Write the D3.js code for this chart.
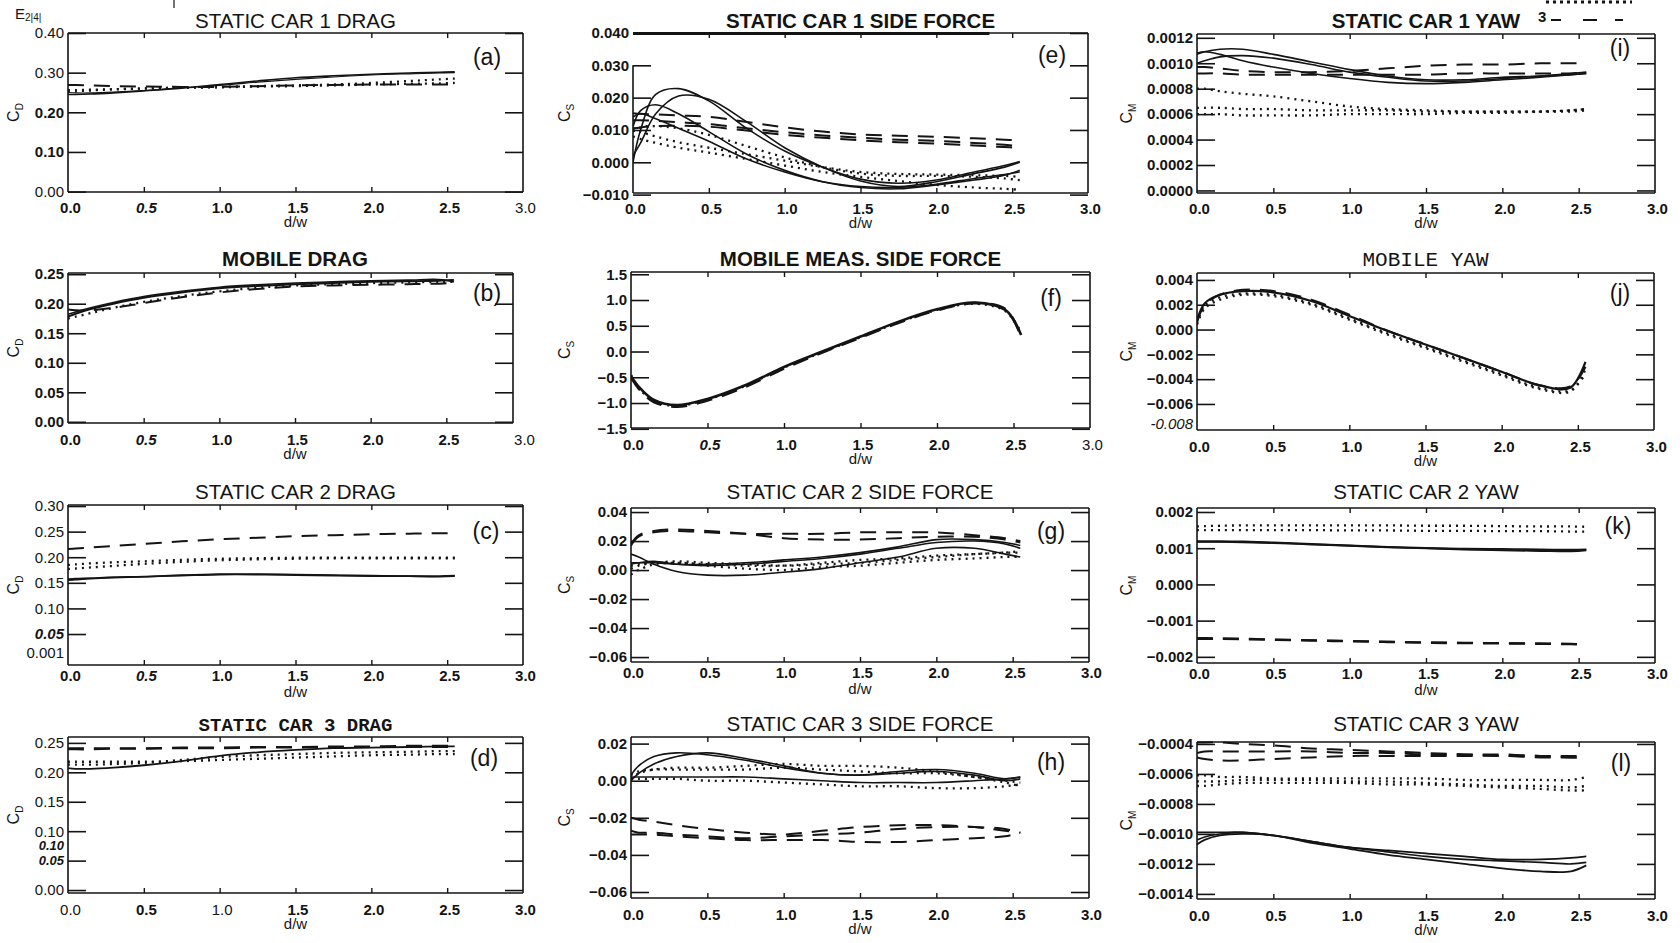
<!DOCTYPE html>
<html><head><meta charset="utf-8">
<script src="https://cdn.jsdelivr.net/npm/d3@7"></script>
<style>body{margin:0;background:#fff}svg{display:block}</style>
</head><body><svg id="c" width="1680" height="943"></svg>
<script>
// ---------------- DATA ----------------
const dw = [0, 0.05, 0.15, 0.3, 0.5, 0.75, 1.0, 1.25, 1.5, 1.75, 2.0, 2.25, 2.45, 2.55];
const xTicks = [0, 0.5, 1.0, 1.5, 2.0, 2.5, 3.0];

// (a) static car 1 drag
const a_s1 = [0.245,0.245,0.246,0.249,0.254,0.261,0.270,0.279,0.287,0.292,0.296,0.299,0.301,0.302];
const a_s2 = [0.250,0.249,0.249,0.251,0.255,0.262,0.268,0.276,0.283,0.289,0.294,0.297,0.299,0.300];
const a_o1 = [0.256,0.256,0.257,0.258,0.260,0.262,0.264,0.266,0.268,0.270,0.274,0.279,0.283,0.285];
const a_o2 = [0.252,0.253,0.255,0.258,0.260,0.262,0.263,0.265,0.266,0.268,0.270,0.272,0.273,0.274];
const a_d1 = [0.269,0.269,0.268,0.266,0.265,0.264,0.264,0.266,0.268,0.269,0.270,0.270,0.270,0.270];
// (b) mobile drag
const b_s1 = [0.178,0.183,0.191,0.200,0.210,0.219,0.226,0.230,0.233,0.235,0.237,0.238,0.239,0.240];
const b_s2 = [0.182,0.186,0.193,0.202,0.212,0.221,0.228,0.232,0.235,0.237,0.239,0.240,0.241,0.237];
const b_d1 = [0.190,0.189,0.189,0.193,0.201,0.211,0.219,0.225,0.229,0.231,0.232,0.233,0.234,0.235];
const b_o1 = [0.175,0.178,0.184,0.193,0.203,0.213,0.221,0.227,0.231,0.233,0.235,0.236,0.237,0.237];
// (c) static car 2 drag
const c_d1 = [0.216,0.217,0.219,0.222,0.226,0.231,0.235,0.238,0.241,0.243,0.245,0.246,0.247,0.247];
const c_o1 = [0.185,0.186,0.188,0.190,0.192,0.195,0.197,0.198,0.199,0.199,0.199,0.199,0.199,0.199];
const c_o2 = [0.177,0.178,0.180,0.183,0.187,0.191,0.194,0.196,0.197,0.198,0.198,0.198,0.198,0.198];
const c_s1 = [0.157,0.158,0.159,0.161,0.162,0.165,0.167,0.167,0.166,0.165,0.164,0.163,0.163,0.164];
const c_s2 = [0.155,0.156,0.158,0.160,0.162,0.164,0.166,0.166,0.165,0.164,0.163,0.163,0.162,0.163];
// (d) static car 3 drag
const d_d1 = [0.241,0.241,0.241,0.241,0.241,0.242,0.242,0.243,0.243,0.244,0.244,0.245,0.245,0.245];
const d_d2 = [0.239,0.239,0.239,0.240,0.240,0.241,0.241,0.242,0.242,0.243,0.243,0.243,0.243,0.243];
const d_s1 = [0.207,0.206,0.206,0.208,0.212,0.219,0.228,0.234,0.238,0.241,0.242,0.243,0.244,0.244];
const d_o1 = [0.218,0.218,0.218,0.218,0.218,0.219,0.221,0.223,0.225,0.227,0.229,0.230,0.231,0.231];
const d_o2 = [0.213,0.213,0.213,0.214,0.216,0.221,0.226,0.229,0.231,0.233,0.234,0.235,0.236,0.236];
// (e) static car 1 side force
const e_s1 = [0.000,0.010,0.021,0.0228,0.019,0.0105,0.0035,-0.0015,-0.0052,-0.0065,-0.0055,-0.003,-0.001,0.0002];
const e_s2 = [0.002,0.006,0.015,0.0205,0.0195,0.0125,0.0045,-0.0015,-0.0058,-0.0075,-0.006,-0.0035,-0.0015,0.000];
const e_s3 = [0.011,0.016,0.0178,0.015,0.0095,0.0025,-0.0025,-0.006,-0.0078,-0.0082,-0.007,-0.0055,-0.004,-0.0025];
const e_s4 = [0.014,0.015,0.0135,0.0105,0.0065,0.001,-0.003,-0.006,-0.0075,-0.0078,-0.0068,-0.005,-0.0038,-0.003];
const e_d1 = [0.0152,0.0150,0.0148,0.0145,0.0141,0.0125,0.0108,0.0095,0.0086,0.0082,0.0079,0.0074,0.0070,0.0068];
const e_d2 = [0.0130,0.0130,0.0128,0.0124,0.0118,0.0105,0.0093,0.0083,0.0076,0.0070,0.0066,0.0060,0.0054,0.0050];
const e_d3 = [0.0105,0.0108,0.0112,0.0113,0.0110,0.0098,0.0085,0.0076,0.0068,0.0062,0.0058,0.0052,0.0047,0.0045];
const e_o1 = [0.0105,0.0095,0.0080,0.0062,0.0045,0.0025,0.0005,-0.0015,-0.0030,-0.0036,-0.0038,-0.0040,-0.0042,-0.0045];
const e_o2 = [0.0095,0.0108,0.0112,0.0105,0.0085,0.0050,0.0015,-0.0015,-0.0035,-0.0042,-0.0042,-0.0045,-0.0050,-0.0055];
const e_o3 = [0.0080,0.0072,0.0060,0.0045,0.0030,0.0010,-0.0010,-0.0030,-0.0045,-0.0058,-0.0070,-0.0078,-0.0082,-0.0085];
// (f) mobile measured side force
const f_s1 = [-0.48,-0.68,-0.94,-1.04,-0.92,-0.65,-0.30,0.00,0.29,0.58,0.82,0.95,0.80,0.32];
const f_d1 = [-0.50,-0.72,-0.98,-1.07,-0.95,-0.68,-0.33,-0.02,0.27,0.56,0.80,0.94,0.82,0.28];
const f_o1 = [-0.46,-0.70,-0.96,-1.05,-0.93,-0.66,-0.31,-0.01,0.28,0.57,0.81,0.93,0.78,0.36];
// (g) static car 2 side force
const g_d1 = [0.018,0.024,0.027,0.028,0.027,0.025,0.022,0.021,0.021,0.022,0.023,0.023,0.021,0.019];
const g_d2 = [0.017,0.023,0.026,0.027,0.026,0.025,0.025,0.025,0.026,0.026,0.026,0.024,0.022,0.020];
const g_s1 = [0.011,0.009,0.004,-0.001,-0.0035,-0.0035,-0.0015,0.001,0.005,0.009,0.015,0.015,0.011,0.009];
const g_s2 = [0.004,0.005,0.006,0.004,0.003,0.004,0.006,0.008,0.011,0.015,0.019,0.020,0.018,0.015];
const g_s3 = [0.005,0.005,0.005,0.004,0.004,0.005,0.007,0.009,0.012,0.016,0.021,0.021,0.019,0.017];
const g_o1 = [-0.003,0.000,0.004,0.005,0.004,0.003,0.003,0.005,0.007,0.008,0.010,0.011,0.012,0.013];
const g_o2 = [0.001,0.003,0.005,0.005,0.003,0.001,0.000,0.002,0.003,0.005,0.007,0.008,0.009,0.009];
const g_o3 = [0.003,0.004,0.005,0.006,0.005,0.004,0.003,0.004,0.005,0.007,0.009,0.011,0.012,0.012];
// (h) static car 3 side force
const h_s1 = [0.003,0.008,0.013,0.015,0.014,0.011,0.007,0.004,0.003,0.005,0.006,0.004,0.001,0.002];
const h_s2 = [0.000,0.004,0.009,0.013,0.015,0.012,0.008,0.004,0.003,0.004,0.005,0.003,0.000,0.001];
const h_s3 = [0.002,0.002,0.002,0.002,0.002,0.002,0.001,0.000,-0.001,-0.001,-0.001,0.000,0.001,0.002];
const h_o1 = [0.001,0.004,0.006,0.007,0.007,0.008,0.009,0.008,0.008,0.007,0.005,0.002,0.000,-0.001];
const h_o2 = [0.003,0.005,0.006,0.006,0.006,0.006,0.007,0.006,0.005,0.004,0.004,0.002,-0.001,-0.003];
const h_o3 = [0.001,0.001,0.001,0.001,0.000,0.000,-0.001,-0.002,-0.003,-0.003,-0.004,-0.004,-0.003,-0.002];
const h_d1 = [-0.020,-0.021,-0.022,-0.024,-0.026,-0.028,-0.029,-0.027,-0.025,-0.024,-0.024,-0.025,-0.027,-0.028];
const h_d2 = [-0.027,-0.028,-0.028,-0.029,-0.030,-0.031,-0.030,-0.029,-0.028,-0.026,-0.025,-0.025,-0.026,-0.028];
const h_d3 = [-0.029,-0.029,-0.029,-0.030,-0.031,-0.032,-0.032,-0.032,-0.033,-0.033,-0.032,-0.031,-0.030,-0.028];
// (i) static car 1 yaw
const i_s1 = [0.00107,0.00109,0.00111,0.00111,0.00107,0.00101,0.00095,0.00090,0.00087,0.00087,0.00089,0.00090,0.00092,0.00093];
const i_s2 = [0.00100,0.00102,0.00105,0.00106,0.00104,0.00099,0.00093,0.00089,0.00086,0.00086,0.00088,0.00090,0.00091,0.00092];
const i_s3 = [0.00108,0.00109,0.00107,0.00102,0.00097,0.00092,0.00088,0.00085,0.00084,0.00085,0.00087,0.00089,0.00091,0.00092];
const i_d1 = [0.00097,0.00097,0.00096,0.00094,0.00093,0.00093,0.00094,0.00096,0.00098,0.00099,0.00099,0.00100,0.00100,0.00100];
const i_d2 = [0.00092,0.00092,0.00092,0.00091,0.00091,0.00091,0.00091,0.00091,0.00091,0.00092,0.00092,0.00092,0.00092,0.00093];
const i_o1 = [0.00080,0.00080,0.00078,0.00076,0.00074,0.00070,0.00066,0.00064,0.00063,0.00062,0.00062,0.00062,0.00063,0.00064];
const i_o2 = [0.00065,0.00065,0.00065,0.00064,0.00064,0.00063,0.00063,0.00063,0.00062,0.00062,0.00062,0.00062,0.00063,0.00064];
const i_o3 = [0.00060,0.00060,0.00060,0.00059,0.00059,0.00059,0.00060,0.00060,0.00060,0.00061,0.00061,0.00062,0.00062,0.00063];
// (j) mobile yaw
const j_s1 = [0.0007,0.0021,0.0028,0.0031,0.0030,0.0023,0.0011,-0.0001,-0.0012,-0.0023,-0.0034,-0.0045,-0.0047,-0.0026];
const j_d1 = [0.0006,0.0020,0.0028,0.0032,0.0031,0.0024,0.0012,-0.0001,-0.0012,-0.0023,-0.0034,-0.0045,-0.0046,-0.0030];
const j_o1 = [0.0004,0.0017,0.0024,0.0028,0.0027,0.0020,0.0008,-0.0004,-0.0015,-0.0026,-0.0037,-0.0048,-0.0050,-0.0032];
const j_o2 = [0.0005,0.0019,0.0026,0.0029,0.0028,0.0021,0.0009,-0.0003,-0.0014,-0.0025,-0.0036,-0.0047,-0.0049,-0.0036];
// (k) static car 2 yaw
const k_o1 = [0.00160,0.00161,0.00162,0.00163,0.00163,0.00163,0.00163,0.00163,0.00162,0.00162,0.00161,0.00160,0.00160,0.00159];
const k_o2 = [0.00150,0.00150,0.00150,0.00150,0.00150,0.00150,0.00149,0.00149,0.00148,0.00148,0.00147,0.00147,0.00146,0.00146];
const k_s1 = [0.00120,0.00120,0.00120,0.00119,0.00116,0.00112,0.00108,0.00104,0.00101,0.00099,0.00098,0.00097,0.00096,0.00097];
const k_s2 = [0.00118,0.00118,0.00118,0.00117,0.00115,0.00111,0.00107,0.00103,0.00100,0.00097,0.00095,0.00094,0.00093,0.00095];
const k_s3 = [0.00117,0.00117,0.00117,0.00116,0.00114,0.00110,0.00106,0.00102,0.00099,0.00096,0.00094,0.00092,0.00091,0.00094];
const k_d1 = [-0.00150,-0.00150,-0.00150,-0.00151,-0.00153,-0.00155,-0.00157,-0.00159,-0.00161,-0.00162,-0.00163,-0.00164,-0.00165,-0.00166];
const k_d2 = [-0.00148,-0.00148,-0.00149,-0.00150,-0.00152,-0.00154,-0.00156,-0.00158,-0.00160,-0.00161,-0.00162,-0.00163,-0.00164,-0.00165];
// (l) static car 3 yaw
const l_d1 = [-0.00039,-0.00039,-0.00039,-0.00040,-0.00041,-0.00043,-0.00044,-0.00045,-0.00046,-0.00047,-0.00047,-0.00048,-0.00048,-0.00048];
const l_d2 = [-0.00046,-0.00045,-0.00045,-0.00045,-0.00045,-0.00045,-0.00046,-0.00046,-0.00047,-0.00047,-0.00048,-0.00048,-0.00049,-0.00049];
const l_d3 = [-0.00049,-0.00050,-0.00051,-0.00051,-0.00050,-0.00049,-0.00048,-0.00048,-0.00048,-0.00048,-0.00048,-0.00049,-0.00049,-0.00049];
const l_o1 = [-0.00061,-0.00061,-0.00062,-0.00062,-0.00063,-0.00063,-0.00063,-0.00063,-0.00063,-0.00064,-0.00064,-0.00064,-0.00064,-0.00062];
const l_o2 = [-0.00065,-0.00065,-0.00065,-0.00064,-0.00064,-0.00064,-0.00065,-0.00065,-0.00066,-0.00067,-0.00068,-0.00068,-0.00069,-0.00068];
const l_o3 = [-0.00068,-0.00068,-0.00067,-0.00066,-0.00066,-0.00066,-0.00066,-0.00067,-0.00067,-0.00068,-0.00069,-0.00070,-0.00071,-0.00071];
const l_s1 = [-0.00099,-0.00099,-0.00099,-0.00099,-0.00101,-0.00105,-0.00109,-0.00111,-0.00113,-0.00115,-0.00117,-0.00117,-0.00116,-0.00115];
const l_s2 = [-0.00104,-0.00102,-0.00100,-0.00099,-0.00101,-0.00105,-0.00109,-0.00112,-0.00115,-0.00117,-0.00118,-0.00119,-0.00120,-0.00119];
const l_s3 = [-0.00107,-0.00104,-0.00101,-0.00100,-0.00101,-0.00106,-0.00110,-0.00114,-0.00117,-0.00120,-0.00123,-0.00125,-0.00125,-0.00121];

// tick values
const yt_a = [0, 0.1, 0.2, 0.3, 0.4];
const yt_b = [0, 0.05, 0.10, 0.15, 0.20, 0.25];
const yt_c = [0.05, 0.10, 0.15, 0.20, 0.25, 0.30];
const yt_d = [0, 0.05, 0.10, 0.15, 0.20, 0.25];
const yt_e = [-0.01, 0, 0.01, 0.02, 0.03, 0.04];
const yt_f = [-1.5, -1.0, -0.5, 0, 0.5, 1.0, 1.5];
const yt_g = [-0.06, -0.04, -0.02, 0, 0.02, 0.04];
const yt_h = [-0.06, -0.04, -0.02, 0, 0.02];
const yt_i = [0, 0.0002, 0.0004, 0.0006, 0.0008, 0.0010, 0.0012];
const yt_j = [-0.006, -0.004, -0.002, 0, 0.002, 0.004];
const yt_k = [-0.002, -0.001, 0, 0.001, 0.002];
const yt_l = [-0.0014, -0.0012, -0.0010, -0.0008, -0.0006, -0.0004];

// ---------------- LAYOUT / RENDER ----------------
const SANS = "'Liberation Sans', Arial, Helvetica, sans-serif";
const MONO = "'Liberation Mono', 'Courier New', monospace";
const INK = '#141414';
const rowTitleY = [28, 266, 499, 731];
const rowTickPad = [10, 11, 5, 11];
const rowXTitleOff = [35, 36, 32, 36];
const colYTitleX = [19, 570, 1132];
const styleOf = {
  solid:  {w: 1.6, dash: null},
  dashed: {w: 2.0, dash: '16,10'},
  dotted: {w: 2.3, dash: '2,5'}
};

const panels = [
  {key:'a', row:0, col:0, title:'STATIC CAR 1 DRAG', tw:'normal', sub:'D', yDomain:[-0.001,0.40], yt:yt_a, fmt:'.2f',
   box:{x0:68,x3:523,top:33,bottom:192}, lab:[487,57],
   series:[[a_s1,'solid'],[a_s2,'solid',1.1],[a_o1,'dotted'],[a_o2,'dotted'],[a_d1,'dashed']],
   xItalic:[0.5], xNormal:[3.0], yNormal:[0.4,0.3,0]},
  {key:'b', row:1, col:0, title:'MOBILE DRAG', tw:'bold', sub:'D', yDomain:[-0.002,0.252], yt:yt_b, fmt:'.2f',
   box:{x0:68,x3:522,right:513,top:273,bottom:423}, lab:[487,293],
   series:[[b_s1,'solid',2],[b_s2,'solid'],[b_d1,'dashed'],[b_o1,'dotted']],
   xItalic:[0.5], xNormal:[3.0]},
  {key:'c', row:2, col:0, title:'STATIC CAR 2 DRAG', tw:'normal', sub:'D', yDomain:[-0.0105,0.302], yt:yt_c, fmt:'.2f',
   box:{x0:68,x3:523,top:505,bottom:665}, lab:[486,531],
   series:[[c_d1,'dashed'],[c_o1,'dotted'],[c_o2,'dotted'],[c_s1,'solid',1.8],[c_s2,'solid']],
   xItalic:[0.5], yItalic:[0.05], yNormal:[0.30,0.25,0.20,0.15,0.10],
   extraY:[[0.012,'0.001','normal','normal',15]]},
  {key:'d', row:3, col:0, title:'STATIC CAR 3 DRAG', tf:MONO, tw:'bold', tsize:19, sub:'D', yDomain:[-0.005,0.26], yt:yt_d, fmt:'.2f',
   box:{x0:68,x3:523,top:737,bottom:893}, lab:[484,758],
   series:[[d_d1,'dashed'],[d_d2,'dashed'],[d_s1,'solid',1.8],[d_o1,'dotted'],[d_o2,'dotted']],
   yItalic:[0.05], ySmall:[0.05], yNormal:[0.25,0.20,0.15,0.10,0], xNormal:[0,1.0],
   extraY:[[0.0745,'0.10','bold','italic',13]]},
  {key:'e', row:0, col:1, title:'STATIC CAR 1 SIDE FORCE', tw:'bold', sub:'S', yDomain:[-0.0095,0.040], yt:yt_e, fmt:'.3f',
   box:{x0:633,x3:1088,top:33,bottom:193}, lab:[1052,55], leftFrom:0.03, thickTop:2.35,
   series:[[e_s1,'solid'],[e_s2,'solid'],[e_s3,'solid'],[e_s4,'solid'],[e_d1,'dashed'],[e_d2,'dashed'],[e_d3,'dashed'],[e_o1,'dotted'],[e_o2,'dotted'],[e_o3,'dotted']]},
  {key:'f', row:1, col:1, title:'MOBILE MEAS. SIDE FORCE', tw:'bold', sub:'S', yDomain:[-1.485,1.544], yt:yt_f, fmt:'.1f',
   box:{x0:631,x3:1090,top:272,bottom:428}, lab:[1051,298],
   series:[[f_s1,'solid',2.6],[f_d1,'dashed',2.6],[f_o1,'dotted',2.6]],
   xItalic:[0.5], xNormal:[3.0]},
  {key:'g', row:2, col:1, title:'STATIC CAR 2 SIDE FORCE', tw:'normal', sub:'S', yDomain:[-0.0634,0.0428], yt:yt_g, fmt:'.2f',
   box:{x0:631,x3:1089,top:508,bottom:662}, lab:[1051,531],
   series:[[g_d1,'dashed'],[g_d2,'dashed'],[g_s1,'solid'],[g_s2,'solid'],[g_s3,'solid'],[g_o1,'dotted'],[g_o2,'dotted'],[g_o3,'dotted']]},
  {key:'h', row:3, col:1, title:'STATIC CAR 3 SIDE FORCE', tw:'normal', sub:'S', yDomain:[-0.06323,0.02356], yt:yt_h, fmt:'.2f',
   box:{x0:631,x3:1089,top:737,bottom:898}, lab:[1051,762],
   series:[[h_s1,'solid'],[h_s2,'solid'],[h_s3,'solid'],[h_o1,'dotted'],[h_o2,'dotted'],[h_o3,'dotted'],[h_d1,'dashed'],[h_d2,'dashed'],[h_d3,'dashed']]},
  {key:'i', row:0, col:2, title:'STATIC CAR 1 YAW', tw:'bold', sub:'M', yDomain:[-0.00002,0.00123], yt:yt_i, fmt:'.4f',
   box:{x0:1197,x3:1655,top:34,bottom:193}, lab:[1620,48],
   series:[[i_s1,'solid'],[i_s2,'solid'],[i_s3,'solid'],[i_d1,'dashed'],[i_d2,'dashed'],[i_o1,'dotted'],[i_o2,'dotted'],[i_o3,'dotted']]},
  {key:'j', row:1, col:2, title:'MOBILE YAW', tf:MONO, tw:'normal', tsize:21, sub:'M', yDomain:[-0.0081,0.00456], yt:yt_j, fmt:'.3f',
   box:{x0:1197,x3:1654,top:273,bottom:430}, lab:[1620,293],
   series:[[j_s1,'solid',2.2],[j_d1,'dashed',2.2],[j_o1,'dotted'],[j_o2,'dotted']],
   extraY:[[-0.0076,'-0.008','normal','italic',15]]},
  {key:'k', row:2, col:2, title:'STATIC CAR 2 YAW', tw:'normal', sub:'M', yDomain:[-0.00217,0.00211], yt:yt_k, fmt:'.3f',
   box:{x0:1197,x3:1655,top:508,bottom:663}, lab:[1618,526],
   series:[[k_o1,'dotted'],[k_o2,'dotted'],[k_s1,'solid'],[k_s2,'solid'],[k_s3,'solid'],[k_d1,'dashed',2.4],[k_d2,'dashed']]},
  {key:'l', row:3, col:2, title:'STATIC CAR 3 YAW', tw:'normal', sub:'M', yDomain:[-0.001434,-0.000387], yt:yt_l, fmt:'.4f',
   box:{x0:1197,x3:1655,top:742,bottom:899}, lab:[1621,763],
   series:[[l_d1,'dashed'],[l_d2,'dashed'],[l_d3,'dashed'],[l_o1,'dotted'],[l_o2,'dotted'],[l_o3,'dotted'],[l_s1,'solid',1.8],[l_s2,'solid'],[l_s3,'solid',1.8]]}
];

const svg = d3.select('#c');
svg.append('rect').attr('width',1680).attr('height',943).attr('fill','#fff');
const defs = svg.append('defs');
const near = (arr, d) => (arr || []).some(v => Math.abs(v - d) < 1e-9);

function drawPanel(p) {
  const b = p.box;
  const right = b.right != null ? b.right : b.x3;
  const x = d3.scaleLinear().domain([0, 3]).range([b.x0, b.x3]);
  const y = d3.scaleLinear().domain(p.yDomain).range([b.bottom, b.top]);
  const g = svg.append('g');

  defs.append('clipPath').attr('id', 'clip-' + p.key)
    .append('rect').attr('x', b.x0).attr('y', b.top - 1).attr('width', right - b.x0).attr('height', b.bottom - b.top + 2);

  const line = d3.line().x((d, i) => x(dw[i])).y(d => y(d)).curve(d3.curveCatmullRom.alpha(0.5));
  const lg = g.append('g').attr('clip-path', `url(#clip-${p.key})`);
  p.series.forEach(([vals, type, w]) => {
    const st = styleOf[type];
    lg.append('path').attr('d', line(vals)).attr('fill', 'none').attr('stroke', INK)
      .attr('stroke-width', w || st.w).attr('stroke-dasharray', st.dash).attr('stroke-linejoin', 'round');
  });

  // frame
  const fr = g.append('g').attr('stroke', INK).attr('stroke-width', 1.6).attr('fill', 'none');
  const leftTop = p.leftFrom != null ? y(p.leftFrom) : b.top;
  fr.append('line').attr('x1', b.x0).attr('x2', b.x0).attr('y1', leftTop).attr('y2', b.bottom);
  fr.append('line').attr('x1', right).attr('x2', right).attr('y1', b.top).attr('y2', b.bottom);
  fr.append('line').attr('x1', b.x0).attr('x2', right).attr('y1', b.top).attr('y2', b.top);
  fr.append('line').attr('x1', b.x0).attr('x2', right).attr('y1', b.bottom).attr('y2', b.bottom);
  if (p.thickTop) fr.append('line').attr('x1', b.x0).attr('x2', x(p.thickTop)).attr('y1', b.top + 0.5).attr('y2', b.top + 0.5).attr('stroke-width', 3.2);

  const fmt = d3.format(p.fmt);
  // left axis (inward ticks + labels)
  const la = g.append('g').attr('transform', `translate(${b.x0},0)`)
    .call(d3.axisLeft(y).tickValues(p.yt).tickSize(-18).tickPadding(4).tickFormat(fmt));
  la.select('.domain').remove();
  la.selectAll('.tick line').attr('stroke', INK).attr('stroke-width', 1.6);
  la.selectAll('.tick text').attr('fill', INK).attr('font-family', SANS)
    .attr('font-size', d => near(p.ySmall, d) ? 13 : 15)
    .attr('font-weight', d => near(p.yNormal, d) ? 'normal' : 'bold')
    .attr('font-style', d => near(p.yItalic, d) ? 'italic' : 'normal');
  (p.extraY || []).forEach(([v, t, w, s, fs]) => {
    g.append('text').attr('x', b.x0 - 4).attr('y', y(v)).attr('dy', '0.32em').attr('text-anchor', 'end')
      .attr('font-family', SANS).attr('font-size', fs).attr('font-weight', w).attr('font-style', s).attr('fill', INK).text(t);
  });
  // right axis ticks
  const ra = g.append('g').attr('transform', `translate(${right},0)`)
    .call(d3.axisRight(y).tickValues(p.yt).tickSize(-18).tickFormat(''));
  ra.select('.domain').remove();
  ra.selectAll('.tick line').attr('stroke', INK).attr('stroke-width', 1.6);

  // bottom labels
  const ba = g.append('g').attr('transform', `translate(2,${b.bottom})`)
    .call(d3.axisBottom(x).tickValues(xTicks).tickSize(0).tickPadding(rowTickPad[p.row]).tickFormat(d3.format('.1f')));
  ba.select('.domain').remove();
  ba.selectAll('.tick text').attr('fill', INK).attr('font-family', SANS).attr('font-size', 15)
    .attr('font-weight', d => near(p.xNormal, d) ? 'normal' : 'bold')
    .attr('font-style', d => near(p.xItalic, d) ? 'italic' : 'normal');
  // top/bottom inward minor ticks
  const inner = [0.5, 1.0, 1.5, 2.0, 2.5];
  const bt = g.append('g').attr('transform', `translate(0,${b.bottom})`)
    .call(d3.axisBottom(x).tickValues(inner).tickSize(-5).tickFormat(''));
  bt.select('.domain').remove();
  bt.selectAll('.tick line').attr('stroke', INK).attr('stroke-width', 1.4);
  const tt = g.append('g').attr('transform', `translate(0,${b.top})`)
    .call(d3.axisTop(x).tickValues(inner).tickSize(-5).tickFormat(''));
  tt.select('.domain').remove();
  tt.selectAll('.tick line').attr('stroke', INK).attr('stroke-width', 1.4);

  // title
  g.append('text').attr('x', (b.x0 + b.x3) / 2).attr('y', rowTitleY[p.row]).attr('text-anchor', 'middle')
    .attr('font-family', p.tf || SANS).attr('font-size', p.tsize || 20.5).attr('font-weight', p.tw).attr('fill', INK).text(p.title);
  // panel letter
  g.append('text').attr('x', p.lab[0]).attr('y', p.lab[1] + 8).attr('text-anchor', 'middle')
    .attr('font-family', SANS).attr('font-size', 23).attr('fill', INK).text(`(${p.key})`);
  // x title
  g.append('text').attr('x', (b.x0 + b.x3) / 2).attr('y', b.bottom + rowXTitleOff[p.row]).attr('text-anchor', 'middle')
    .attr('font-family', SANS).attr('font-size', 15).attr('fill', INK).text('d/w');
  // y title (rotated, with subscript)
  const yc = (b.top + b.bottom) / 2;
  const yt = g.append('text').attr('transform', `translate(${colYTitleX[p.col]},${yc}) rotate(-90)`)
    .attr('text-anchor', 'middle').attr('font-family', SANS).attr('font-size', 16).attr('fill', INK);
  yt.append('tspan').text('C');
  yt.append('tspan').attr('font-size', 10).attr('dy', 4).text(p.sub);
}
panels.forEach(drawPanel);

// stray header fragments from the original page
svg.append('text').attr('x', 15).attr('y', 19).attr('font-family', SANS).attr('font-size', 15).attr('fill', INK).text('E')
  .append('tspan').attr('font-size', 10).attr('dy', 2).text('2|4|');
svg.append('line').attr('x1', 174).attr('x2', 174).attr('y1', 0).attr('y2', 8).attr('stroke', INK).attr('stroke-width', 1.2);

// legend (partly cut by the top edge)
const legend = svg.append('g');
legend.append('line').attr('x1', 1546).attr('x2', 1632).attr('y1', 2).attr('y2', 2)
  .attr('stroke', INK).attr('stroke-width', 3).attr('stroke-dasharray', '3,4');
legend.append('text').attr('x', 1538).attr('y', 22).attr('font-family', SANS).attr('font-size', 15).attr('font-weight', 'bold').attr('fill', INK).text('3');
legend.append('line').attr('x1', 1551).attr('x2', 1632).attr('y1', 20).attr('y2', 20)
  .attr('stroke', INK).attr('stroke-width', 1.8).attr('stroke-dasharray', '10,22,14,18,8');
</script></body></html>
